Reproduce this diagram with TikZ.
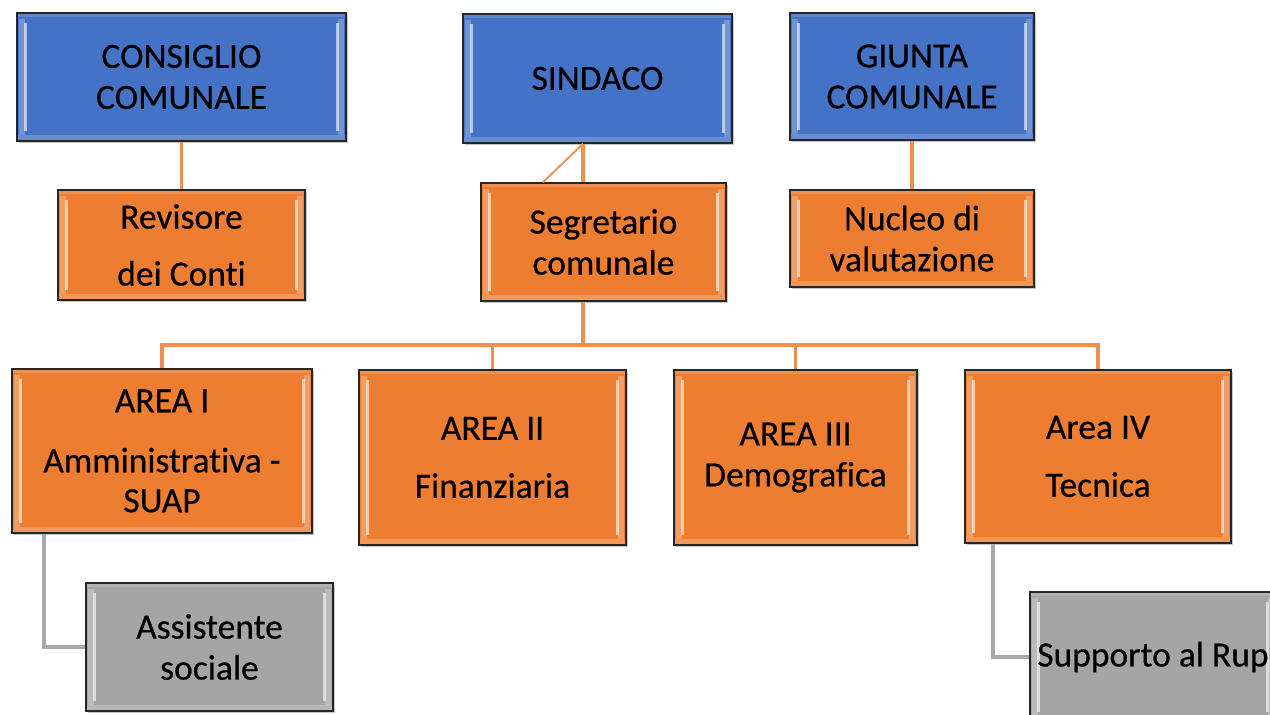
\documentclass[tikz,border=0pt]{standalone}
\usepackage{fontspec}
\setmainfont{Carlito}[Ligatures=NoCommon]
\newfontfamily\boxfont{Carlito}[Ligatures=NoCommon, FakeBold=0.5]
\usetikzlibrary{shadows}
\definecolor{cblue}{HTML}{4472C4}
\definecolor{corange}{HTML}{ED7D31}
\definecolor{cgray}{HTML}{A5A5A5}
\definecolor{lineorange}{HTML}{F09050}
\definecolor{linegray}{HTML}{A8A8A8}
\tikzset{
  bevel/.style={path picture={
    \fill[white,opacity=0.25] ([xshift=2pt,yshift=-6pt]path picture bounding box.north west) rectangle ([xshift=8pt,yshift=6pt]path picture bounding box.south west);
    \fill[white,opacity=0.6] ([xshift=7pt,yshift=-10pt]path picture bounding box.north west) rectangle ([xshift=10pt,yshift=10pt]path picture bounding box.south west);
    \fill[white,opacity=0.25] ([xshift=-8pt,yshift=-6pt]path picture bounding box.north east) rectangle ([xshift=-2pt,yshift=6pt]path picture bounding box.south east);
    \fill[white,opacity=0.6] ([xshift=-10pt,yshift=-10pt]path picture bounding box.north east) rectangle ([xshift=-7pt,yshift=10pt]path picture bounding box.south east);
    \fill[white,opacity=0.2] ([yshift=6pt]path picture bounding box.south west) rectangle (path picture bounding box.south east);
    \fill[white,opacity=0.15] (path picture bounding box.north west) rectangle ([yshift=-4pt]path picture bounding box.north east);
  }},
  boxbase/.style={draw=black!85, line width=1.5pt, inner sep=0pt, align=center,
    font=\boxfont\fontsize{35.5}{41}\selectfont, text=black, bevel,
    drop shadow={shadow xshift=1.5pt, shadow yshift=-1.5pt, opacity=0.45}},
  bluebox/.style={boxbase, fill=cblue},
  orangebox/.style={boxbase, fill=corange},
  graybox/.style={boxbase, fill=cgray},
  oline/.style={draw=lineorange, line width=3.2pt},
  gline/.style={draw=linegray, line width=3.2pt},
}
\begin{document}
\begin{tikzpicture}[x=1pt,y=-1pt]
\useasboundingbox (0,0) rectangle (1270,715);
\clip (0,0) rectangle (1270,715);

% connector anchors
\coordinate (trunk) at (583,0);
\coordinate (diag) at (543,0);
\coordinate (bus) at (583,345);
\coordinate (g1) at (44,0);
\coordinate (g4) at (993,0);

% boxes
\node[bluebox, minimum width=329pt, minimum height=128pt] (consiglio) at (181.5,77) {CONSIGLIO\\COMUNALE};
\node[bluebox, minimum width=269pt, minimum height=129pt] (sindaco) at (597.5,78.5) {SINDACO};
\node[bluebox, minimum width=244pt, minimum height=127pt] (giunta) at (912,76.5) {GIUNTA\\COMUNALE};
\node[orangebox, minimum width=247pt, minimum height=110pt] (revisore) at (181.5,245) {Revisore\\[16pt]dei Conti};
\node[orangebox, minimum width=245pt, minimum height=118pt] (segretario) at (603.5,242) {Segretario\\comunale};
\node[orangebox, minimum width=244pt, minimum height=97pt] (nucleo) at (912,238.5) {Nucleo di\\valutazione};
\node[orangebox, minimum width=300pt, minimum height=164pt] (area1) at (162,451) {AREA I\\[19pt]Amministrativa -\\[-1pt]SUAP};
\node[orangebox, minimum width=267pt, minimum height=175pt] (area2) at (492.5,457.5) {AREA II\\[17pt]Finanziaria};
\node[orangebox, minimum width=243pt, minimum height=175pt] (area3) at (795.5,457.5) {AREA III\\Demografica};
\node[orangebox, minimum width=266pt, minimum height=173pt] (area4) at (1098,456.5) {Area IV\\[17pt]Tecnica};
\node[graybox, minimum width=247pt, minimum height=128pt] (assist) at (209.5,647) {Assistente\\sociale};
\node[graybox, minimum width=246pt, minimum height=130pt] (supporto) at (1153,657) {Supporto al Rup};

% connectors
\draw[oline] (consiglio.south) -- (revisore.north);
\draw[oline] (giunta.south) -- (nucleo.north);
\draw[oline] (trunk |- sindaco.south) -- (trunk |- segretario.north);
\draw[oline, line width=2pt] (trunk |- sindaco.south) -- (diag |- segretario.north);
\draw[oline] (trunk |- segretario.south) -- (bus);
\draw[oline] (area1.north) -- (area1.north |- bus) -- (area4.north |- bus) -- (area4.north);
\draw[oline] (area2.north |- bus) -- (area2.north);
\draw[oline] (area3.north |- bus) -- (area3.north);
\draw[gline] (g1 |- area1.south) |- (assist.west);
\draw[gline] (g4 |- area4.south) |- (supporto.west);
\end{tikzpicture}
\end{document}
